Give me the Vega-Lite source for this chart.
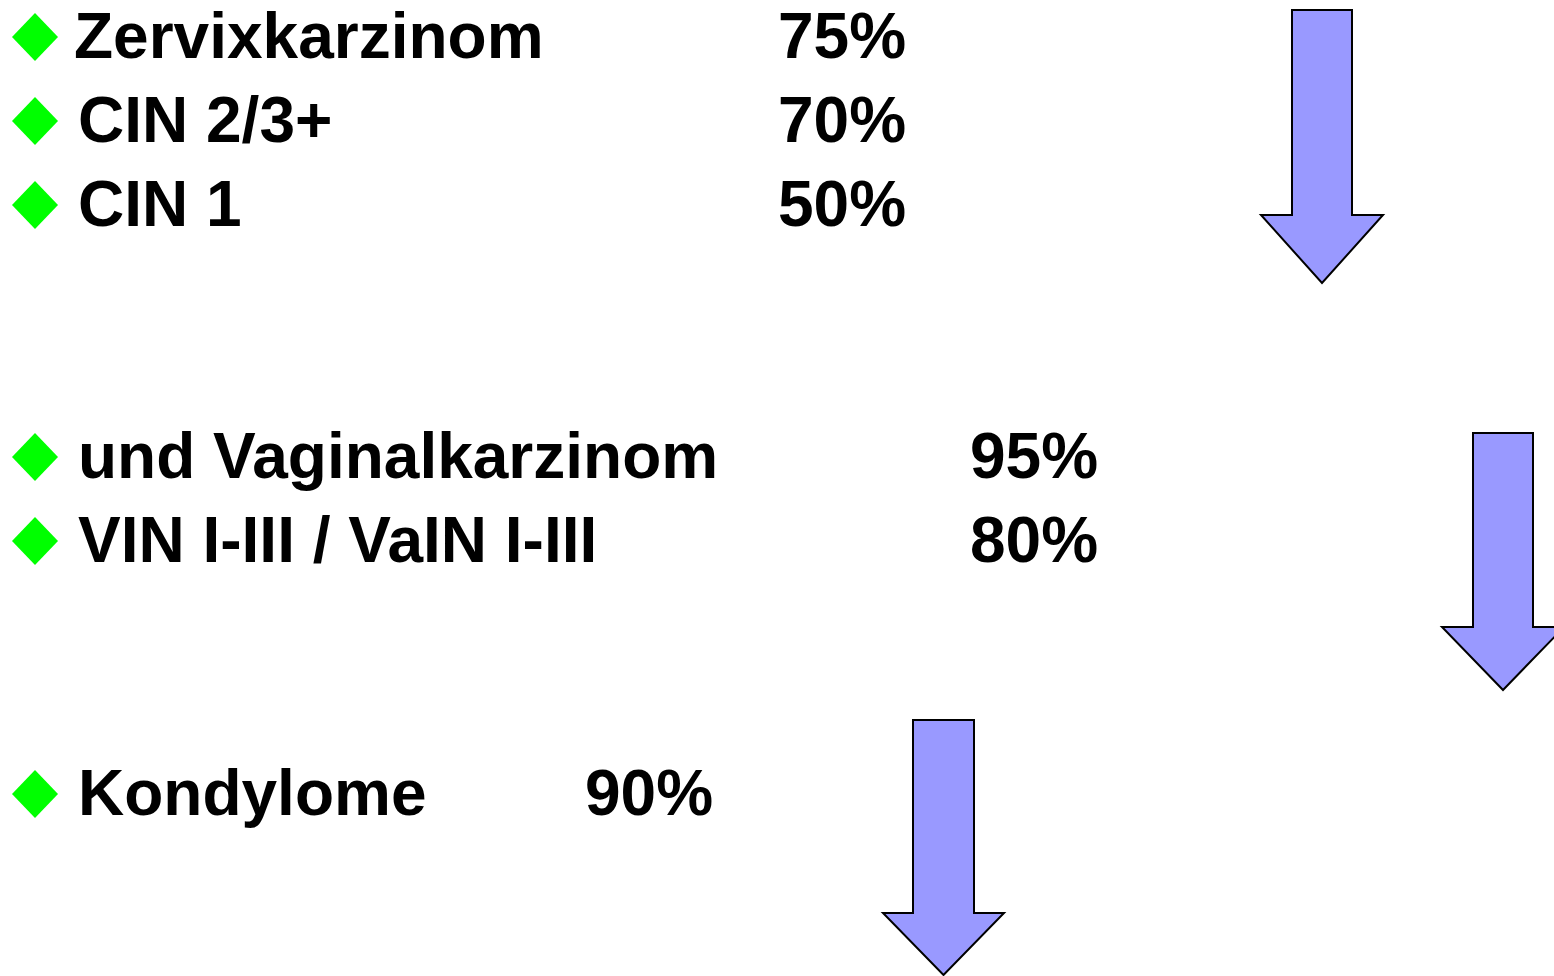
{
  "$schema": "https://vega.github.io/schema/vega-lite/v6.json",
  "width": 1554,
  "height": 976,
  "autosize": "none",
  "padding": 0,
  "background": "white",
  "config": {"view": {"stroke": null}},
  "datasets": {
    "items": [
      {"label": "Zervixkarzinom", "rate": "75%", "x": 74, "rx": 778, "y": 58},
      {"label": "CIN 2/3+", "rate": "70%", "x": 78, "rx": 778, "y": 142},
      {"label": "CIN 1", "rate": "50%", "x": 78, "rx": 778, "y": 226},
      {"label": "und Vaginalkarzinom", "rate": "95%", "x": 78, "rx": 970, "y": 478},
      {"label": "VIN I-III / VaIN I-III", "rate": "80%", "x": 78, "rx": 970, "y": 562},
      {"label": "Kondylome", "rate": "90%", "x": 78, "rx": 585, "y": 815}
    ],
    "arrows": [
      {"id": "a1", "x": 1322, "y": 10},
      {"id": "a2", "x": 1503, "y": 433},
      {"id": "a3", "x": 943.5, "y": 720}
    ]
  },
  "layer": [
    {
      "data": {"name": "items"},
      "mark": {"type": "point", "filled": true, "color": "#00FF00", "opacity": 1, "strokeWidth": 0, "yOffset": -21},
      "encoding": {
        "x": {"datum": 35, "type": "quantitative", "scale": {"domain": [0, 1554], "nice": false, "zero": false}, "axis": null},
        "y": {"field": "y", "type": "quantitative", "scale": {"domain": [0, 976], "nice": false, "zero": false, "reverse": true}, "axis": null},
        "shape": {"value": "M-23,0L0,-24L23,0L0,24Z"},
        "size": {"value": 4}
      }
    },
    {
      "data": {"name": "items"},
      "mark": {"type": "text", "font": "Liberation Sans", "fontWeight": "bold", "fontSize": 64, "align": "left", "baseline": "alphabetic", "color": "black"},
      "encoding": {
        "x": {"field": "x", "type": "quantitative", "scale": {"domain": [0, 1554], "nice": false, "zero": false}, "axis": null},
        "y": {"field": "y", "type": "quantitative", "scale": {"domain": [0, 976], "nice": false, "zero": false, "reverse": true}, "axis": null},
        "text": {"field": "label"}
      }
    },
    {
      "data": {"name": "items"},
      "mark": {"type": "text", "font": "Liberation Sans", "fontWeight": "bold", "fontSize": 64, "align": "left", "baseline": "alphabetic", "color": "black"},
      "encoding": {
        "x": {"field": "rx", "type": "quantitative", "scale": {"domain": [0, 1554], "nice": false, "zero": false}, "axis": null},
        "y": {"field": "y", "type": "quantitative", "scale": {"domain": [0, 976], "nice": false, "zero": false, "reverse": true}, "axis": null},
        "text": {"field": "rate"}
      }
    },
    {
      "data": {"name": "arrows"},
      "mark": {"type": "point", "filled": true, "fill": "#9999FF", "stroke": "black", "strokeWidth": 2, "opacity": 1},
      "encoding": {
        "x": {"field": "x", "type": "quantitative", "scale": {"domain": [0, 1554], "nice": false, "zero": false}, "axis": null},
        "y": {"field": "y", "type": "quantitative", "scale": {"domain": [0, 976], "nice": false, "zero": false, "reverse": true}, "axis": null},
        "shape": {
          "field": "id",
          "type": "nominal",
          "legend": null,
          "scale": {
            "domain": ["a1", "a2", "a3"],
            "range": [
              "M-30,0L30,0L30,205L61,205L0,273L-61,205L-30,205Z",
              "M-30,0L30,0L30,194L61,194L0,257L-61,194L-30,194Z",
              "M-30.5,0L30.5,0L30.5,193L60.5,193L0,255L-60.5,193L-30.5,193Z"
            ]
          }
        },
        "size": {"value": 4}
      }
    }
  ]
}
